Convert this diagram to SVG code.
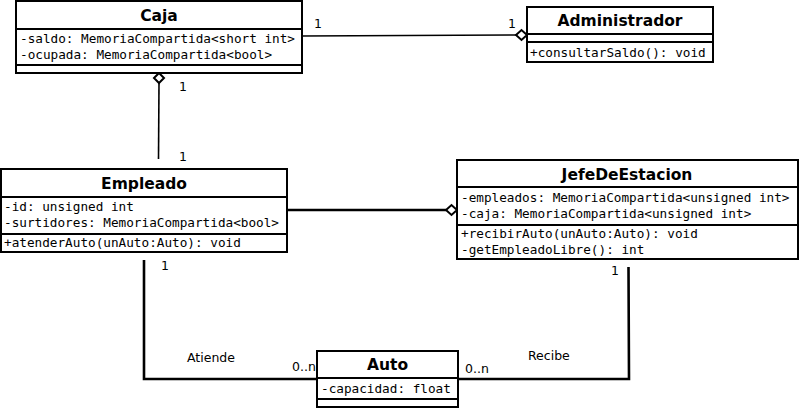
<svg xmlns="http://www.w3.org/2000/svg" width="800" height="408" viewBox="0 0 800 408">
<style>
.box{fill:#fff;stroke:#000;stroke-width:2}
.div{stroke:#000;stroke-width:2}
.t{font-family:"DejaVu Sans",sans-serif;font-weight:bold;font-size:15.5px;text-anchor:middle}
.m{font-family:"DejaVu Sans Mono",monospace;font-size:12.7px}
.l{font-family:"DejaVu Sans",sans-serif;font-size:12.5px}
.c{fill:none;stroke:#000;stroke-width:1.6}
.ct{fill:none;stroke:#000;stroke-width:2.6}
.dia{fill:#fff;stroke:#000;stroke-width:2}
</style>
<rect width="800" height="408" fill="#fff"/>
<g id="connectors">
<line class="c" x1="302" y1="36" x2="516" y2="35"/>
<polygon class="dia" points="516,35 521.5,30 527,35 521.5,40"/>
<line class="c" x1="159" y1="83" x2="158.5" y2="159"/>
<polygon class="dia" points="159,73 164,78 159,83 154,78"/>
<line class="ct" x1="287" y1="210" x2="446" y2="210"/>
<polygon class="dia" points="446,210 451.5,205 457,210 451.5,215"/>
<polyline class="ct" points="144,260 144,379 317,379"/>
<polyline class="ct" points="458,379 629,379 628.5,267"/>
<text class="l" x="314" y="28">1</text>
<text class="l" x="508" y="28">1</text>
<text class="l" x="179" y="91">1</text>
<text class="l" x="179" y="161">1</text>
<text class="l" x="161" y="270">1</text>
<text class="l" x="611" y="275">1</text>
<text class="l" x="187" y="362">Atiende</text>
<text class="l" x="528" y="360">Recibe</text>
<text class="l" x="292" y="371">0..n</text>
<text class="l" x="465" y="373">0..n</text>
</g>
<g id="Caja">
<rect class="box" x="16" y="1" width="286" height="72"/>
<line class="div" x1="16" y1="29" x2="302" y2="29"/>
<line class="div" x1="16" y1="65" x2="302" y2="65"/>
<text class="t" x="159" y="21">Caja</text>
<text class="m" x="20" y="43">-saldo: MemoriaCompartida&lt;short int&gt;</text>
<text class="m" x="20" y="59">-ocupada: MemoriaCompartida&lt;bool&gt;</text>
</g>
<g id="Administrador">
<rect class="box" x="527" y="7" width="186" height="55"/>
<line class="div" x1="527" y1="34" x2="713" y2="34"/>
<line class="div" x1="527" y1="42" x2="713" y2="42"/>
<text class="t" x="620" y="26">Administrador</text>
<text class="m" x="530" y="57">+consultarSaldo(): void</text>
</g>
<g id="Empleado">
<rect class="box" x="1" y="169" width="286" height="83"/>
<line class="div" x1="1" y1="197" x2="287" y2="197"/>
<line class="div" x1="1" y1="234" x2="287" y2="234"/>
<text class="t" x="144" y="189">Empleado</text>
<text class="m" x="4" y="211">-id: unsigned int</text>
<text class="m" x="4" y="227">-surtidores: MemoriaCompartida&lt;bool&gt;</text>
<text class="m" x="4" y="247">+atenderAuto(unAuto:Auto): void</text>
</g>
<g id="JefeDeEstacion">
<rect class="box" x="457" y="160" width="341" height="99"/>
<line class="div" x1="457" y1="187" x2="798" y2="187"/>
<line class="div" x1="457" y1="225" x2="798" y2="225"/>
<text class="t" x="627" y="180">JefeDeEstacion</text>
<text class="m" x="461" y="202">-empleados: MemoriaCompartida&lt;unsigned int&gt;</text>
<text class="m" x="461" y="218">-caja: MemoriaCompartida&lt;unsigned int&gt;</text>
<text class="m" x="461" y="238">+recibirAuto(unAuto:Auto): void</text>
<text class="m" x="461" y="254">-getEmpleadoLibre(): int</text>
</g>
<g id="Auto">
<rect class="box" x="317" y="351" width="141" height="56"/>
<line class="div" x1="317" y1="378" x2="458" y2="378"/>
<line class="div" x1="317" y1="399" x2="458" y2="399"/>
<text class="t" x="387.5" y="370">Auto</text>
<text class="m" x="321" y="393">-capacidad: float</text>
</g>
</svg>
